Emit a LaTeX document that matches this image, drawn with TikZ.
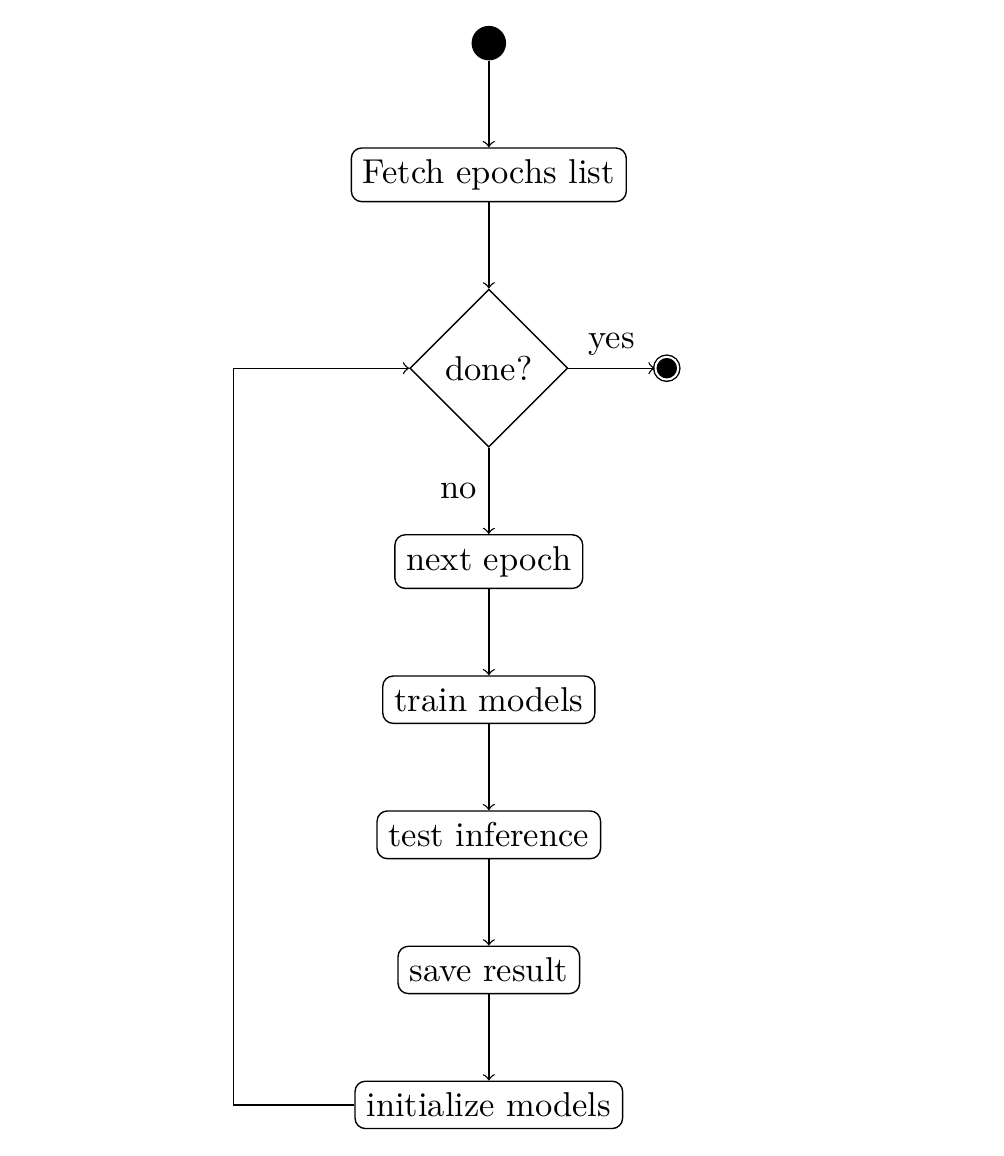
\documentclass[tikz,border=0pt]{standalone}
\usepackage{amsmath,amssymb}
\usepackage{tikz}
\usepackage{xcolor}
\usetikzlibrary{positioning,shapes.geometric}

\begin{document}
\begin{tikzpicture}[
    node distance=25pt,
    activity/.style={draw, rectangle, rounded corners=3pt},
    decision/.style={draw, diamond},
    initial/.style={circle, fill=black, inner sep=0pt, minimum size=10pt},
    final/.style={circle, draw, double, fill=black, inner sep=0pt, minimum size=6.6pt},
    every edge/.style={draw, ->},
  ]
  \useasboundingbox (-141.7pt,12.5pt) rectangle (149.3pt,-322.6pt);
  \node[initial] (start) at (0,0) {};
  \node[activity, below=of start] (fetch) {Fetch epochs list};
  \node[decision, below=of fetch] (done) {done?};
  \node[final, right=of done] (stop) {};
  \node[activity, below=of done] (next) {next epoch};
  \node[activity, below=of next] (train) {train models};
  \node[activity, below=of train] (test) {test inference};
  \node[activity, below=of test] (save) {save result};
  \node[activity, below=of save] (init) {initialize models};

  \path (start) edge (fetch)
        (fetch) edge (done)
        (done) edge node[above] {yes} (stop)
        (done) edge node[left] {no} (next)
        (next) edge (train)
        (train) edge (test)
        (test) edge (save)
        (save) edge (init);
  \draw[->] (init.west) -- ++(-35pt,0) |- (done.west);
\end{tikzpicture}
\end{document}
